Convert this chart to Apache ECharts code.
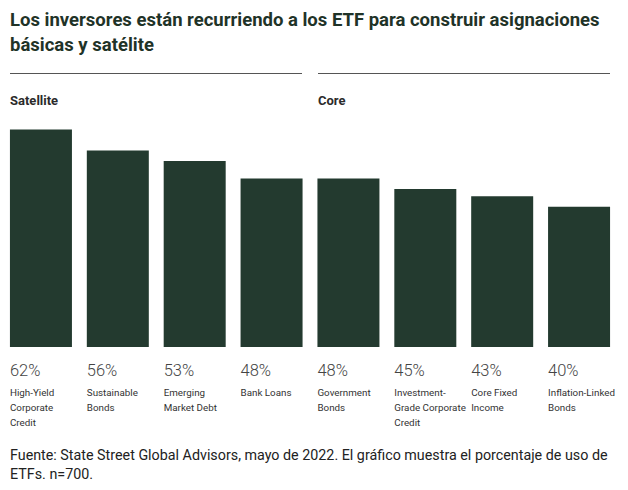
<!DOCTYPE html>
<html><head><meta charset="utf-8">
<script src="https://cdn.jsdelivr.net/npm/echarts@6/dist/echarts.min.js"></script>
<style>html,body{margin:0;padding:0;background:#fff}#c{width:628px;height:490px}</style>
</head><body><div id="c"></div>
<script>
const categories = ["High-Yield\nCorporate\nCredit","Sustainable\nBonds","Emerging\nMarket Debt","Bank Loans","Government\nBonds","Investment-\nGrade Corporate\nCredit","Core Fixed\nIncome","Inflation-Linked\nBonds"];
const values = [62,56,53,48,48,45,43,40];
const groups = ["Satellite","Core"];
const titleText = "Los inversores están recurriendo a los ETF para construir asignaciones\nbásicas y satélite";
const footText = "Fuente: State Street Global Advisors, mayo de 2022. El gráfico muestra el porcentaje de uso de\nETFs. n=700.";

const chart = echarts.init(document.getElementById('c'), null, {renderer:'svg'});
const green = '#233a2f';
chart.setOption({
  animation:false,
  title:[
    {text:titleText,left:10,top:7.5,padding:0,textStyle:{fontFamily:'Roboto',fontWeight:'bold',fontSize:18.5,lineHeight:25,color:'#1f3328'}},
    {text:groups[0],left:10,top:92,padding:0,textStyle:{fontFamily:'Roboto',fontWeight:'bold',fontSize:13,lineHeight:16,color:'#2b2b2b'}},
    {text:groups[1],left:318,top:92,padding:0,textStyle:{fontFamily:'Roboto',fontWeight:'bold',fontSize:13,lineHeight:16,color:'#2b2b2b'}},
    {text:footText,left:10,top:445,padding:0,textStyle:{fontFamily:'Roboto',fontWeight:'normal',fontSize:14.3,lineHeight:19,color:'#222'}}
  ],
  graphic:[
    {type:'line',shape:{x1:10,y1:73.5,x2:302,y2:73.5},style:{stroke:'#555',lineWidth:1}},
    {type:'line',shape:{x1:318,y1:73.5,x2:610,y2:73.5},style:{stroke:'#555',lineWidth:1}}
  ],
  grid:{left:2.5,right:10.5,top:101.4,bottom:143},
  xAxis:{type:'category',data:categories,show:false},
  yAxis:{type:'value',min:0,max:70,show:false},
  series:[{
    type:'bar',data:values,barWidth:62,
    itemStyle:{color:green},
    label:{show:true,position:['0%','100%'],align:'left',verticalAlign:'top',offset:[0,8],
      formatter:p=>'{v|'+p.value+'%}\n{n|'+categories[p.dataIndex].split('\n').join('}\n{n|')+'}',
      rich:{
        v:{fontFamily:'Roboto',fontSize:16.5,fontWeight:300,color:'#444',lineHeight:30},
        n:{fontFamily:'Roboto',fontSize:9.8,color:'#333',lineHeight:15}
      }}
  }]
});
</script></body></html>
